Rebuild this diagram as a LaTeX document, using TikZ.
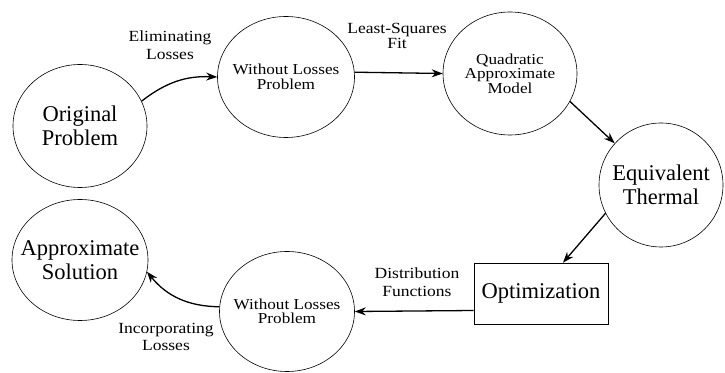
\documentclass[tikz,border=0pt]{standalone}
\usepackage{fontspec}
\setmainfont{Liberation Serif}
\newfontfamily\widefont[FakeStretch=1.13]{Liberation Serif}
\usetikzlibrary{shapes.geometric,arrows.meta}

\begin{document}
\begin{tikzpicture}[x=1pt,y=1pt,
    state/.style={draw,ellipse,inner sep=-12pt,line width=0.6pt,align=center},
    bigtxt/.style={font=\fontsize{22.5}{24}\selectfont},
    smalltxt/.style={font=\widefont\fontsize{15.2}{14.5}\selectfont},
    lbl/.style={align=center,inner sep=0pt,font=\widefont\fontsize{15.5}{17.5}\selectfont},
    arr/.style={-{Stealth[length=11pt,width=8pt]},line width=1.3pt}]
      \useasboundingbox (0,0) rectangle (725,372);
      % the circles
      \node[state,bigtxt,minimum width=134pt,minimum height=123pt] (orig) at (80,246) {Original\\Problem};
      \node[state,smalltxt,minimum width=137pt,minimum height=121pt] (wlup) at (286,295) {Without Losses\\Problem};
      \node[state,smalltxt,minimum width=134pt,minimum height=123pt] (quad) at (510,298.5) {Quadratic\\Approximate\\Model};
      \node[state,bigtxt,minimum width=124pt,minimum height=124pt] (equiv) at (661,187) {Equivalent\\Thermal};
      \node[draw,line width=0.6pt,bigtxt,minimum width=134pt,minimum height=61pt] (opt) at (541,78.5) {Optimization};
      \node[state,smalltxt,minimum width=135pt,minimum height=120pt] (wldown) at (287,60.5) {Without Losses\\Problem};
      \node[state,bigtxt,minimum width=136pt,minimum height=121pt] (approx) at (80,112) {Approximate\\Solution};
      % the labels
      \node[lbl] (elim) at (170,327) {Eliminating\\Losses};
      \node[lbl,font=\widefont\fontsize{15.5}{14.5}\selectfont] (lsq) at (397,336) {Least-Squares\\Fit};
      \node[lbl] (dist) at (417,90) {Distribution\\Functions};
      \node[lbl] (incl) at (166,35) {Incorporating\\Losses};
      % the arrows
      \draw[arr] (orig.22) to[bend left=20] (wlup.west);
      \draw[arr] (wlup.4) -- (quad.west);
      \draw[arr] (quad.-25) -- (equiv.138);
      \draw[arr] (equiv.207) -- ([xshift=22pt]opt.north);
      \draw[arr] ([yshift=-17pt]opt.west) -- (wldown.east);
      \draw[arr] (wldown.176) to[bend left=25] (approx.-10);
    \end{tikzpicture}
\end{document}
